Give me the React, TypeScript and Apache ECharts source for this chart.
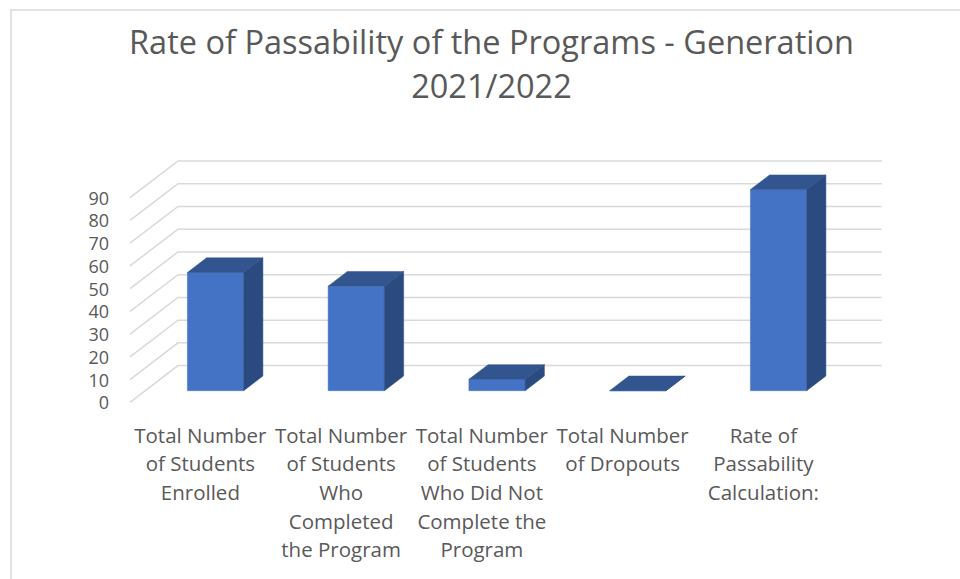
import React, { useEffect, useRef } from "react";
import * as echarts from "echarts";

const categories = [
  "Total Number\nof Students\nEnrolled",
  "Total Number\nof Students\nWho\nCompleted\nthe Program",
  "Total Number\nof Students\nWho Did Not\nComplete the\nProgram",
  "Total Number\nof Dropouts",
  "Rate of\nPassability\nCalculation:",
];
const values = [52, 46, 5, 0, 88.46];
const yTicks = [0, 10, 20, 30, 40, 50, 60, 70, 80, 90];
const titleText = "Rate of Passability of the Programs - Generation\n2021/2022";

// oblique depth of the 3D floor
const DX = 48;
const DY = -36.7;
const BAR_FRONT = 0.316; // fraction of depth where bar front sits
const BAR_DEPTH = 0.4;
const BAR_WIDTH = 0.4; // fraction of category band

const FRONT = "#4472C4";
const TOP = "#32558F";
const SIDE = "#2B4A80";
const GRID = "#D9D9D9";
const TEXT = "#595959";
const FONT = "'Open Sans', 'Noto Sans', sans-serif";

export default function App() {
  const ref = useRef<HTMLDivElement>(null);
  useEffect(() => {
    if (!ref.current) return;
    const chart = echarts.init(ref.current, null, { renderer: "svg" });
    const option: any = {
      animation: false,
      backgroundColor: "#ffffff",
      title: {
        text: titleText,
        left: 486.5,
        top: 14,
        textAlign: "center",
        textStyle: {
          fontFamily: FONT,
          fontSize: 32.5,
          fontWeight: "normal",
          color: TEXT,
          lineHeight: 44.5,
        },
      },
      grid: { left: 130, right: 126.25, top: 197.7, bottom: 176.7, containLabel: false },
      xAxis: {
        type: "category",
        data: categories,
        axisLine: { show: false },
        axisTick: { show: false },
        axisLabel: {
          interval: 0,
          fontFamily: FONT,
          fontSize: 20.5,
          lineHeight: 28.7,
          color: TEXT,
          margin: 18,
          verticalAlign: "top",
        },
      },
      yAxis: {
        type: "value",
        min: 0,
        max: 90,
        interval: 10,
        axisLine: { show: false },
        axisTick: { show: false },
        splitLine: { show: false },
        axisLabel: {
          fontFamily: FONT,
          fontSize: 18,
          lineHeight: 18,
          color: TEXT,
          margin: 21,
        },
      },
      graphic: [
        {
          type: "rect",
          shape: { x: 11, y: 10, width: 1200, height: 1200 },
          style: { fill: "none", stroke: GRID, lineWidth: 1.5 },
          silent: true,
        },
      ],
      series: [
        {
          type: "custom",
          name: "grid",
          silent: true,
          data: yTicks.map((v) => [0, v]),
          encode: { x: 0, y: 1 },
          renderItem: (params: any, api: any) => {
            const cs = params.coordSys;
            const y = api.coord([0, api.value(1)])[1];
            const x0 = cs.x;
            const x1 = cs.x + cs.width;
            return {
              type: "polyline",
              shape: {
                points: [
                  [x0, y],
                  [x0 + DX, y + DY],
                  [x1 + DX, y + DY],
                ],
              },
              style: { stroke: GRID, lineWidth: 1.5, fill: "none" },
            };
          },
          z: 1,
        },
        {
          type: "custom",
          name: "bars",
          data: values.map((v, i) => [i, v]),
          encode: { x: 0, y: 1 },
          renderItem: (params: any, api: any) => {
            const i = api.value(0);
            const v = api.value(1);
            const base = api.coord([i, 0]);
            const top = api.coord([i, v]);
            const band = api.size([1, 0])[0];
            const w = band * BAR_WIDTH;
            const fx = BAR_FRONT * DX;
            const fy = BAR_FRONT * DY;
            const dx = BAR_DEPTH * DX;
            const dy = BAR_DEPTH * DY;
            const xl = base[0] - w / 2 + fx;
            const xr = base[0] + w / 2 + fx;
            const yb = base[1] + fy;
            const yt = top[1] + fy;
            return {
              type: "group",
              children: [
                {
                  type: "polygon",
                  shape: { points: [[xl, yt], [xr, yt], [xr, yb], [xl, yb]] },
                  style: { fill: FRONT, stroke: FRONT, lineWidth: 0.5 },
                },
                {
                  type: "polygon",
                  shape: { points: [[xl, yt], [xl + dx, yt + dy], [xr + dx, yt + dy], [xr, yt]] },
                  style: { fill: TOP, stroke: TOP, lineWidth: 0.5 },
                },
                {
                  type: "polygon",
                  shape: { points: [[xr, yt], [xr + dx, yt + dy], [xr + dx, yb + dy], [xr, yb]] },
                  style: { fill: SIDE, stroke: SIDE, lineWidth: 0.5 },
                },
              ],
            };
          },
          z: 2,
        },
      ],
    };
    chart.setOption(option);
    return () => chart.dispose();
  }, []);
  return (
    <div
      ref={ref}
      style={{ position: "fixed", left: 0, top: 0, width: 960, height: 579 }}
    />
  );
}
